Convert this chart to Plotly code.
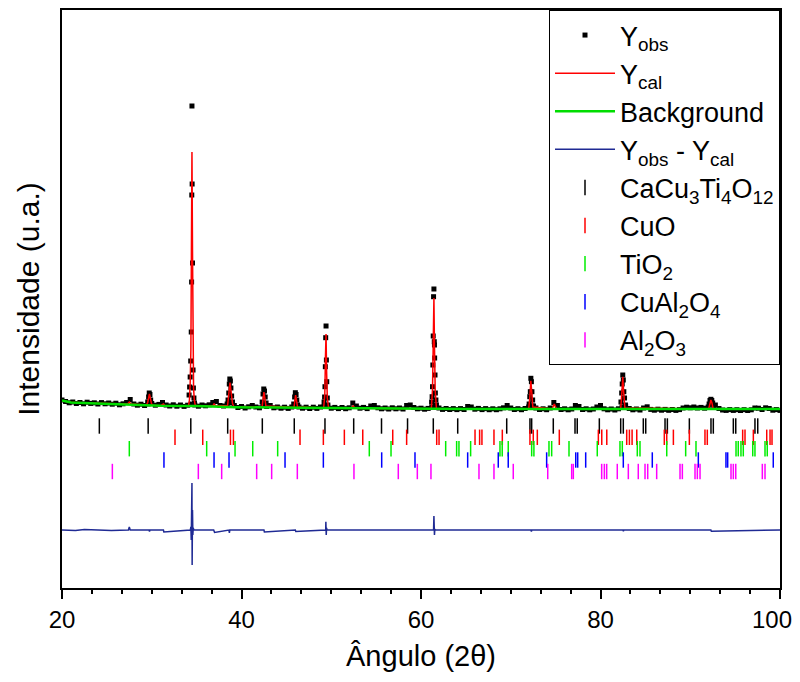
import numpy as np
import plotly.graph_objects as go

# ---------------- data ----------------
# observed pattern, coarse baseline grid (20.0 .. 100.0, step 0.4 deg)
base_angle = np.round(np.arange(20.0, 100.0001, 0.4), 2)
base_yobs = [
    400, 385, 372, 380, 365, 375, 362, 378, 366, 372,
    360, 374, 362, 370, 358, 368, 352, 362, 375, 405,
    360, 348, 358, 345, 360, 365, 348, 356, 375, 350,
    340, 352, 338, 350, 336, 348, 360, 350, 338, 350,
    342, 352, 375, 385, 345, 340, 360, 370, 345, 325,
    335, 320, 332, 345, 330, 322, 350, 335, 345, 322,
    330, 318, 328, 316, 330, 345, 330, 318, 328, 315,
    328, 316, 330, 335, 340, 318, 326, 314, 325, 313,
    322, 370, 340, 318, 326, 314, 340, 345, 322, 312,
    320, 310, 322, 312, 320, 310, 345, 350, 325, 312,
    318, 308, 316, 330, 340, 320, 306, 315, 305, 314,
    304, 314, 305, 335, 330, 308, 316, 304, 314, 303,
    312, 303, 312, 322, 345, 320, 305, 313, 303, 315,
    330, 340, 320, 305, 312, 303, 320, 375, 345, 305,
    312, 302, 310, 345, 335, 305, 312, 302, 310, 330,
    345, 312, 302, 310, 300, 312, 330, 340, 315, 302,
    310, 300, 320, 332, 306, 298, 308, 298, 306, 297,
    305, 296, 304, 320, 328, 322, 330, 320, 326, 318,
    330, 360, 350, 315, 300, 296, 304, 296, 303, 295,
    303, 295, 302, 320, 318, 305, 322, 315, 298, 304,
    296,
]

# observed points across the diffraction peaks
peak_angle = [
    29.55, 29.65, 29.72, 29.80, 29.88, 29.96,
    34.16, 34.22, 34.28, 34.34, 34.40, 34.44, 34.46, 34.48, 34.50, 34.54,
    34.60, 34.64, 34.70, 34.76,
    38.50, 38.58, 38.64, 38.70, 38.76, 38.82, 38.90, 39.00,
    42.30, 42.40, 42.48, 42.56, 42.64, 42.74,
    45.82, 45.92, 46.00, 46.08, 46.16, 46.26,
    49.20, 49.26, 49.30, 49.34, 49.38, 49.42, 49.46, 49.50, 49.56, 49.62,
    61.18, 61.24, 61.28, 61.32, 61.36, 61.40, 61.44, 61.48, 61.50, 61.52,
    61.56, 61.60, 61.66, 61.72,
    72.05, 72.12, 72.18, 72.24, 72.30, 72.36, 72.44, 72.54,
    82.28, 82.36, 82.42, 82.48, 82.54, 82.60, 82.68, 82.78,
    92.10, 92.20, 92.30, 92.40, 92.50, 92.62,
]
peak_yobs = [
    380, 430, 470, 455, 400, 365,
    450, 530, 630, 790, 1080, 1580, 2450, 3340, 2560, 1770,
    700, 520, 420, 370,
    400, 470, 560, 610, 590, 520, 440, 380,
    380, 460, 510, 490, 430, 370,
    360, 430, 473, 455, 400, 350,
    380, 430, 533, 733, 1023, 1140, 800, 583, 420, 350,
    380, 433, 533, 750, 1040, 1433, 1510, 983, 950, 820,
    650, 470, 400, 350,
    360, 433, 483, 617, 583, 483, 400, 340,
    380, 470, 560, 650, 600, 483, 420, 350,
    360, 395, 407, 395, 370, 335,
]

# calculated profile
ycal_angle = [
    20.0, 21.0, 23.0, 26.5, 27.3, 27.5, 27.7, 29.4, 29.55, 29.66, 29.74, 29.84,
    29.96, 30.1, 31.0, 31.3, 31.5, 33.5, 34.10, 34.20, 34.28, 34.36, 34.42,
    34.48, 34.54, 34.60, 34.66, 34.74, 34.84, 35.0, 36.8, 36.95, 37.1, 38.45,
    38.6, 38.72, 38.84, 39.0, 39.15, 41.2, 42.3, 42.4, 42.5, 42.6, 42.72,
    45.85, 45.95, 46.03, 46.12, 46.24, 49.15, 49.28, 49.36, 49.42, 49.48,
    49.56, 49.70, 52.3, 52.45, 52.6, 61.15, 61.28, 61.36, 61.44, 61.50, 61.58,
    61.72, 72.0, 72.12, 72.24, 72.34, 72.46, 74.6, 74.85, 75.1, 82.25, 82.38,
    82.48, 82.58, 82.72, 92.05, 92.18, 92.30, 92.42, 92.55, 100.0,
]
ycal_val = [
    392, 377, 370, 357, 360, 380, 360, 350, 375, 425, 462, 420,
    365, 348, 343, 360, 343, 340, 345, 400, 560, 900, 1700,
    2880, 1900, 900, 520, 400, 350, 340, 340, 365, 340, 345,
    460, 575, 480, 365, 333, 328, 330, 410, 480, 420, 340,
    325, 400, 450, 400, 330, 320, 450, 850, 1060, 700,
    420, 322, 318, 345, 318, 312, 500, 950, 1420, 950, 500,
    315, 310, 420, 593, 480, 330, 310, 360, 310, 310, 470,
    633, 480, 320, 310, 370, 400, 370, 312, 309,
]

# background
bg_angle = [20.0, 21.0, 23.1, 26.5, 31.0, 35.0, 39.3, 46.5, 55.0, 65.0, 80.0, 100.0]
bg_val = [395, 375, 368, 355, 342, 340, 328, 322, 315, 311, 310, 309]

# difference curve (offset)
diff_angle = [
    20.0, 21.5, 22.5, 24.0, 25.5, 27.4, 27.5, 27.6, 29.7, 29.75, 29.8, 31.3,
    31.35, 34.30, 34.36, 34.40, 34.44, 34.48, 34.50, 34.54, 34.58, 34.62,
    34.70, 36.9, 37.0, 38.6, 38.65, 38.7, 42.5, 42.55, 46.0, 46.05, 49.38,
    49.40, 49.44, 49.48, 49.52, 55.0, 61.40, 61.44, 61.48, 61.50, 61.54,
    61.60, 72.25, 72.3, 72.35, 82.5, 82.55, 82.6, 92.3, 92.35, 100.0,
]
diff_val = [
    -900, -905, -895, -900, -905, -900, -870, -900, -900, -915, -900, -900,
    -920, -900, -870, -1000, -600, -430, -1250, -700, -950, -880,
    -900, -900, -925, -900, -930, -900, -900, -920, -900, -915, -900,
    -817, -950, -880, -900, -900, -900, -760, -920, -950, -890,
    -900, -900, -915, -900, -900, -912, -900, -900, -912, -900,
]

# reflection positions
ccto_pos = [24.16, 29.6, 34.35, 38.46, 42.32, 45.88, 49.3, 52.5, 55.6, 58.5,
            61.37, 64.09, 69.55, 72.14, 72.33, 74.74, 77.16, 77.41, 79.87,
            82.25, 82.54, 84.77, 85.04, 87.19, 87.45, 89.90, 92.31, 92.57,
            94.80, 95.07, 97.21, 97.52]
cuo_pos = [32.59, 35.68, 38.77, 39.10, 46.52, 49.12, 51.46, 53.51, 56.85, 58.40,
           61.75, 62.01, 66.02, 66.53, 66.79, 68.13, 69.06, 72.14, 72.51, 72.96,
           75.41, 79.76, 80.14, 80.70, 82.92, 83.22, 83.52, 84.04, 87.11, 87.38,
           88.12, 89.90, 91.64, 91.90, 95.84, 96.10, 97.03, 98.52, 98.89, 99.11]
tio2_pos = [27.5, 36.12, 39.28, 41.25, 44.03, 54.24, 56.66, 62.75, 63.97, 64.23,
            65.53, 68.80, 69.05, 69.72, 72.33, 72.58, 74.26, 74.56, 76.49, 79.64,
            82.17, 82.43, 84.10, 84.40, 87.38, 89.49, 90.64, 95.10, 95.35, 95.65,
            95.91, 96.96, 97.21, 98.33, 98.58]
cual2o4_pos = [31.36, 36.94, 38.61, 44.85, 49.12, 55.62, 59.33, 65.2, 68.61,
               69.72, 74.0, 77.24, 77.46, 78.35, 82.54, 85.77, 90.90, 93.98,
               94.17, 99.25]
al2o3_pos = [25.61, 35.19, 37.79, 41.69, 43.36, 46.22, 52.53, 57.47, 59.59,
             61.11, 66.46, 68.13, 70.28, 74.12, 76.79, 76.97, 80.13, 80.43,
             80.69, 81.87, 83.10, 84.21, 84.96, 85.26, 86.26, 88.86, 89.12,
             90.53, 90.79, 91.09, 94.54, 94.80, 95.07, 98.03, 98.33]

phase_names = ["CaCu<sub>3</sub>Ti<sub>4</sub>O<sub>12</sub>", "CuO",
               "TiO<sub>2</sub>", "CuAl<sub>2</sub>O<sub>4</sub>",
               "Al<sub>2</sub>O<sub>3</sub>"]
phase_pos = [ccto_pos, cuo_pos, tio2_pos, cual2o4_pos, al2o3_pos]
phase_row = [140, 27, -87, -200, -315]
phase_colors = ["#000000", "#ff0000", "#00ee00", "#0000ff", "#ff00ff"]

x_tick_vals = [20, 40, 60, 80, 100]
x_tick_text = ["20", "40", "60", "80", ""]
last_tick_label = "100"

# ---------------- figure ----------------
FONT = "Liberation Sans, Arial, sans-serif"
obs_x = list(base_angle) + peak_angle
obs_y = list(base_yobs) + peak_yobs

fig = go.Figure()
fig.add_trace(go.Scatter(x=obs_x, y=obs_y, mode="markers", name="Y<sub>obs</sub>",
                         marker=dict(symbol="square", size=5, color="black")))
fig.add_trace(go.Scatter(x=ycal_angle, y=ycal_val, mode="lines", name="Y<sub>cal</sub>",
                         line=dict(color="#ff0000", width=1.5)))
fig.add_trace(go.Scatter(x=bg_angle, y=bg_val, mode="lines", name="Background",
                         line=dict(color="#00dd00", width=2.5)))
fig.add_trace(go.Scatter(x=diff_angle, y=diff_val, mode="lines",
                         name="Y<sub>obs</sub> - Y<sub>cal</sub>",
                         line=dict(color="#1f2a94", width=1.5)))
for nm, pos, row, col in zip(phase_names, phase_pos, phase_row, phase_colors):
    fig.add_trace(go.Scatter(x=pos, y=[row] * len(pos), mode="markers", name=nm,
                             marker=dict(symbol="line-ns", size=11,
                                         line=dict(color=col, width=1.5))))

# the last tick label is placed so that it stays inside the page, as in the original
fig.add_annotation(x=x_tick_vals[-1], xref="x", y=0, yref="paper",
                   text=last_tick_label, showarrow=False, xanchor="right",
                   yanchor="middle", xshift=14, yshift=-31,
                   font=dict(size=24, family=FONT, color="black"))

# page has an 8px body margin, so the figure is sized/offset to compensate
fig.update_layout(
    width=792, height=674,
    margin=dict(l=54, r=20, t=2, b=94),
    plot_bgcolor="white", paper_bgcolor="white",
    font=dict(family=FONT, color="black"),
    showlegend=True,
    legend=dict(x=1, y=1, xanchor="right", yanchor="top",
                bordercolor="black", borderwidth=1, bgcolor="white",
                font=dict(size=27, family=FONT), itemwidth=60,
                tracegroupgap=0),
    xaxis=dict(range=[20, 100], showline=True, mirror=True, linecolor="black",
               linewidth=2, ticks="outside", ticklen=9, tickwidth=1.5,
               tickcolor="black", tickvals=x_tick_vals, ticktext=x_tick_text,
               tickfont=dict(size=24, family=FONT), showgrid=False, zeroline=False,
               automargin=False,
               minor=dict(ticks="outside", ticklen=4, tickwidth=1.5,
                          tickcolor="black", dtick=20 / 6, tick0=20),
               title=dict(text="Ângulo (2θ)", font=dict(size=29, family=FONT),
                          standoff=14)),
    yaxis=dict(range=[-1480, 4300], showline=True, mirror=True, linecolor="black",
               linewidth=2, ticks="", showticklabels=False, showgrid=False,
               zeroline=False, automargin=False,
               title=dict(text="Intensidade (u.a.)", font=dict(size=30, family=FONT),
                          standoff=12)),
)

fig.write_html("out.html")
